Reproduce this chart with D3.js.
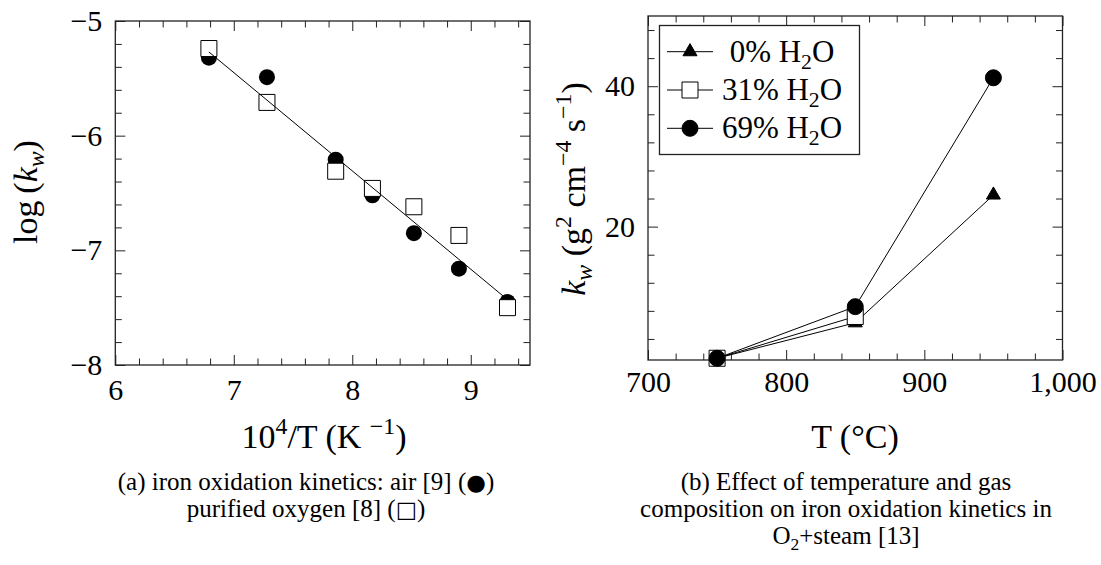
<!DOCTYPE html>
<html>
<head>
<meta charset="utf-8">
<script src="https://cdn.jsdelivr.net/npm/d3@7"></script>
<style>
  body { margin: 0; background: #fff; }
  text { font-family: "Liberation Serif", "DejaVu Serif", serif; fill: #000; }
</style>
</head>
<body>
<svg id="fig" width="1101" height="565"></svg>
<script>
// ---- (a) Arrhenius plot: log(k_w) against 10^4/T ----
const invT      = [6.79, 7.28, 7.86, 8.17, 8.52, 8.90, 9.31];
const airLogK   = [-5.32, -5.49, -6.21, -6.52, -6.85, -7.16, -7.45];
const oxyLogK   = [-5.24, -5.71, -6.31, -6.46, -6.62, -6.87, -7.50];
const fitInvT   = [6.79, 9.31];
const fitLogK   = [-5.27, -7.43];
const xTicksA   = [6, 7, 8, 9];
const yTicksA   = [-8, -7, -6, -5];

// ---- (b) parabolic rate constant against temperature ----
const tempC     = [750, 850, 950];
const kw0       = [1.25, 6.3, 24.5];   // 0% H2O
const kw31      = [1.25, 7.2];         // 31% H2O
const kw69      = [1.25, 8.6, 41.2];   // 69% H2O
const waterPct  = ["0%", "31%", "69%"];
const xTicksB   = [700, 800, 900, 1000];
const yTicksB   = [20, 40];

const svg = d3.select("#fig");
const FS = 30;   // tick labels
const LS = 34;   // axis titles
const CS = 25;   // captions
const CL = 27;   // caption line pitch

// Writes a run of text pieces (normal / italic / superscript / subscript) into a <text>.
function rich(textSel, parts, size) {
  let shift = 0;
  parts.forEach(p => {
    const ts = textSel.append("tspan");
    let target = 0;
    if (p.sup) target = -0.42 * size;
    if (p.sub) target = 0.22 * size;
    ts.attr("dy", target - shift);
    shift = target;
    if (p.sup || p.sub) ts.attr("font-size", size * 0.7);
    if (p.it) ts.attr("font-style", "italic");
    if (p.sym) ts.attr("font-family", "DejaVu Sans").attr("font-size", size * 0.9);
    ts.text(p.t);
  });
  return textSel;
}

// Boxed axes with inward major/minor ticks on all four sides.
function boxAxes(g, x, y, o) {
  const [x0, x1] = x.range();
  const [y0, y1] = y.range(); // y0 bottom, y1 top
  const tick = (axis, tr, vals, size, fmt, pad) => {
    const a = g.append("g").attr("transform", tr)
      .call(axis.tickValues(vals).tickSize(-size).tickPadding(pad || 0).tickFormat(fmt));
    a.select(".domain").remove();
    a.attr("font-size", FS).attr("font-family", null);
    a.selectAll("line").attr("stroke", "#222").attr("stroke-width", 1);
    return a;
  };
  const none = () => "";
  tick(d3.axisBottom(x), `translate(0,${y0})`, o.xMinor, 6.5, none);
  tick(d3.axisTop(x),    `translate(0,${y1})`, o.xMinor, 6.5, none);
  tick(d3.axisLeft(y),   `translate(${x0},0)`, o.yMinor, 6.5, none);
  tick(d3.axisRight(y),  `translate(${x1},0)`, o.yMinor, 6.5, none);
  tick(d3.axisBottom(x), `translate(0,${y0})`, o.xMajor, 10, o.xFmt, o.xPad);
  tick(d3.axisTop(x),    `translate(0,${y1})`, o.xMajor, 10, none);
  tick(d3.axisLeft(y),   `translate(${x0},0)`, o.yMajor, 10, o.yFmt, 13);
  tick(d3.axisRight(y),  `translate(${x1},0)`, o.yMajor, 10, none);
  g.append("rect")
    .attr("x", x0).attr("y", y1).attr("width", x1 - x0).attr("height", y0 - y1)
    .attr("fill", "none").attr("stroke", "#222").attr("stroke-width", 1.3);
}

const minorTicks = (lo, hi, step, major) =>
  d3.range(lo, hi + step / 2, step).map(v => +v.toFixed(6))
    .filter(v => !major.some(m => Math.abs(m - v) < 1e-6));

const circle   = d3.symbol().type(d3.symbolCircle).size(Math.PI * 8 * 8);
const square   = d3.symbol().type(d3.symbolSquare).size(16 * 16);
const triangle = d3.symbol().type(d3.symbolTriangle).size(Math.sqrt(3) / 4 * 14 * 14);

// ================= panel (a) =================
const xA = d3.scaleLinear().domain([6, 9.5]).range([115.3, 530]);
const yA = d3.scaleLinear().domain([-8, -5]).range([365, 21]);
const gA = svg.append("g");

boxAxes(gA, xA, yA, {
  xMajor: xTicksA, xMinor: minorTicks(6, 9.4, 0.2, xTicksA), xFmt: d3.format("d"), xPad: 14,
  yMajor: yTicksA, yMinor: minorTicks(-8, -5, 0.2, yTicksA), yFmt: d3.format("d")
});

gA.append("g").selectAll("path").data(invT).join("path")
  .attr("transform", (d, i) => `translate(${xA(d)},${yA(airLogK[i])})`)
  .attr("d", circle).attr("fill", "#000");

gA.append("g").selectAll("path").data(invT).join("path")
  .attr("transform", (d, i) => `translate(${xA(d)},${yA(oxyLogK[i])})`)
  .attr("d", square).attr("fill", "#fff").attr("stroke", "#000").attr("stroke-width", 1);

gA.append("path")
  .datum(fitInvT.map((d, i) => [d, fitLogK[i]]))
  .attr("d", d3.line().x(d => xA(d[0])).y(d => yA(d[1])))
  .attr("fill", "none").attr("stroke", "#000").attr("stroke-width", 1);

rich(svg.append("text").attr("x", 324).attr("y", 448).attr("text-anchor", "middle").attr("font-size", LS),
  [{ t: "10" }, { t: "4", sup: true }, { t: "/T (K " }, { t: "\u22121", sup: true }, { t: ")" }], LS);

rich(svg.append("text").attr("transform", "translate(37,192) rotate(-90)")
  .attr("text-anchor", "middle").attr("font-size", LS),
  [{ t: "log\u2009(" }, { t: "k", it: true }, { t: "w", it: true, sub: true }, { t: ")" }], LS);

// ================= panel (b) =================
const xB = d3.scaleLinear().domain([700, 1000]).range([648, 1062.5]);
const yB = d3.scaleLinear().domain([1, 50]).range([360, 16]);
const gB = svg.append("g");

boxAxes(gB, xB, yB, {
  xMajor: xTicksB, xMinor: minorTicks(700, 1000, 20, xTicksB), xFmt: d3.format(","), xPad: 11,
  yMajor: yTicksB, yMinor: minorTicks(4, 48, 4, yTicksB), yFmt: d3.format("d")
});

const seriesB = [
  { vals: kw0,  sym: triangle, fill: "#000" },
  { vals: kw31, sym: square,   fill: "#fff" },
  { vals: kw69, sym: circle,   fill: "#000" }
];
const lineB = d3.line().x(d => xB(d[0])).y(d => yB(d[1]));

seriesB.forEach(s => {
  const pts = s.vals.map((v, i) => [tempC[i], v]);
  gB.append("path").datum(pts).attr("d", lineB)
    .attr("fill", "none").attr("stroke", "#000").attr("stroke-width", 1);
  gB.append("g").selectAll("path").data(pts).join("path")
    .attr("transform", d => `translate(${xB(d[0])},${yB(d[1])})`)
    .attr("d", s.sym).attr("fill", s.fill).attr("stroke", "#000").attr("stroke-width", 1);
});

// legend
const leg = gB.append("g");
leg.append("rect").attr("x", 659.5).attr("y", 25.5).attr("width", 200).attr("height", 129)
  .attr("fill", "#fff").attr("stroke", "#222").attr("stroke-width", 1.3);
seriesB.forEach((s, i) => {
  const cy = 51.7 + i * 38.3;
  leg.append("line").attr("x1", 667).attr("x2", 713).attr("y1", cy).attr("y2", cy)
    .attr("stroke", "#000").attr("stroke-width", 1);
  leg.append("path").attr("transform", `translate(690,${cy})`).attr("d", s.sym)
    .attr("fill", s.fill).attr("stroke", "#000").attr("stroke-width", 1);
  rich(leg.append("text").attr("x", 782).attr("y", cy + 10).attr("text-anchor", "middle").attr("font-size", 31),
    [{ t: waterPct[i] + " H" }, { t: "2", sub: true }, { t: "O" }], 31);
});

rich(svg.append("text").attr("x", 855).attr("y", 448).attr("text-anchor", "middle").attr("font-size", LS),
  [{ t: "T (\u00B0C)" }], LS);

rich(svg.append("text").attr("transform", "translate(585,189) rotate(-90)")
  .attr("text-anchor", "middle").attr("font-size", LS),
  [{ t: "k", it: true }, { t: "w", it: true, sub: true }, { t: " (g" }, { t: "2", sup: true },
   { t: " cm" }, { t: "\u22124", sup: true }, { t: " s" }, { t: "\u22121", sup: true }, { t: ")" }], LS);

// ================= captions =================
const capA = [
  [{ t: "(a) iron oxidation kinetics: air [9] (" }, { t: "\u25CF", sym: true }, { t: ")" }],
  [{ t: "purified oxygen [8] (" }, { t: "\u25A1", sym: true }, { t: ")" }]
];
const capB = [
  [{ t: "(b) Effect of temperature and gas" }],
  [{ t: "composition on iron oxidation kinetics in" }],
  [{ t: "O" }, { t: "2", sub: true }, { t: "+steam [13]" }]
];
capA.forEach((p, i) => rich(svg.append("text").attr("x", 306).attr("y", 490 + i * CL)
  .attr("text-anchor", "middle").attr("font-size", CS), p, CS));
capB.forEach((p, i) => rich(svg.append("text").attr("x", 846).attr("y", 490 + i * CL)
  .attr("text-anchor", "middle").attr("font-size", CS), p, CS));
</script>
</body>
</html>
